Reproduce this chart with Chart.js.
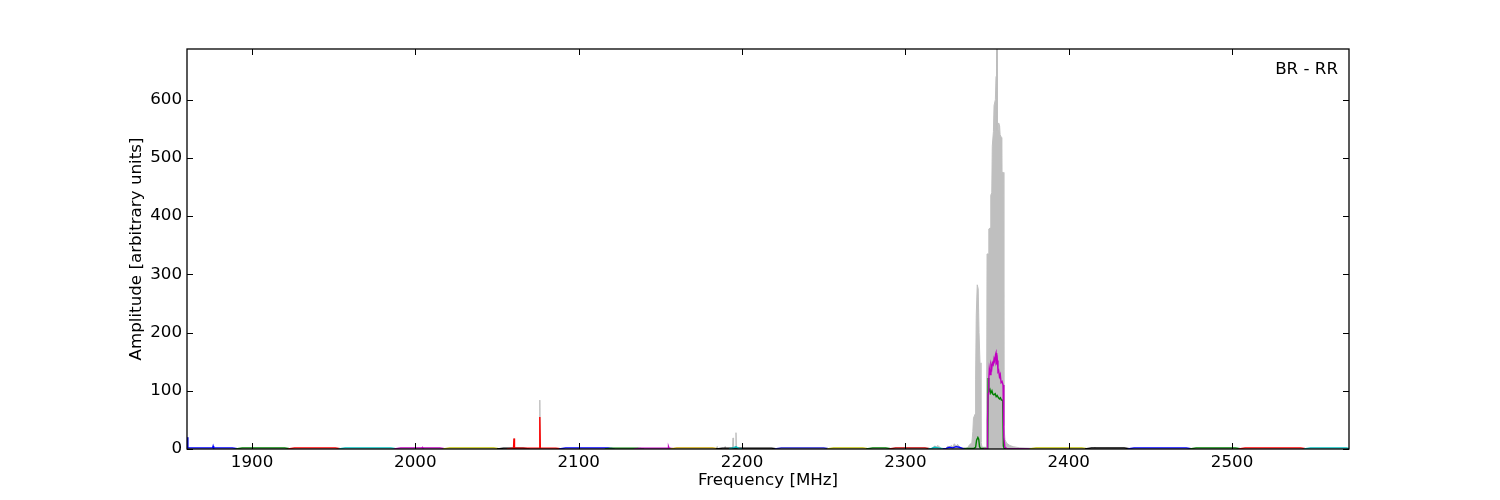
<!DOCTYPE html>
<html>
<head>
<meta charset="utf-8">
<script src="https://cdn.jsdelivr.net/npm/chart.js@4.4.0/dist/chart.umd.min.js"></script>
<style>
  html, body { margin: 0; padding: 0; background: #ffffff; }
  #wrap { width: 1500px; height: 500px; position: relative; }
</style>
</head>
<body>
<div id="wrap"><canvas id="c"></canvas></div>
<script>
// ---- tick labels ----
const xTicks = [1900, 2000, 2100, 2200, 2300, 2400, 2500];
const yTicks = [0, 100, 200, 300, 400, 500, 600];
const xRange = [1860.2, 2571.6];
const yRange = [0, 687];
const annotation = 'BR - RR';

// ---- grey envelope (max over channels) ----
const envFreq = [1860.2, 1860.7, 1875.9, 1876.2, 1876.5, 2004.0, 2004.3, 2004.6,
  2060.1, 2060.4, 2060.7, 2075.9, 2076.2, 2076.5, 2154.7, 2155.0, 2155.3,
  2184.4, 2184.7, 2185.0, 2189.3, 2189.6, 2189.9, 2194.2, 2194.5, 2194.8, 2196.0, 2196.3, 2196.6,
  2316, 2317, 2318, 2319, 2320, 2321, 2322, 2325, 2326, 2327, 2328, 2329, 2330, 2331, 2332, 2333, 2334,
  2338, 2339.5, 2340.7, 2341.3, 2341.7, 2342.7, 2343.0, 2343.4, 2344.0, 2344.6, 2345.1, 2345.7, 2346.3, 2347.0,
  2349.7, 2350.0, 2350.9, 2351.1, 2352.1, 2352.3, 2352.9, 2353.2, 2353.9, 2354.3, 2355.1, 2355.5, 2355.8,
  2356.2, 2356.4, 2356.9, 2357.1, 2357.7, 2358.0, 2358.8, 2359.0, 2359.9, 2360.3, 2361.0, 2362.0, 2364.0,
  2366.0, 2370.0, 2380.0, 2415.5, 2416.0, 2416.5, 2571.6];
const envAmp = [20, 0.5, 0.5, 5, 0.5, 0.5, 3, 0.5,
  0.5, 18, 0.5, 0.5, 84, 0.5, 0.5, 5, 0.5,
  0.5, 4, 0.5, 0.5, 4, 0.5, 0.5, 19, 2, 2, 28, 0.5,
  0.5, 3, 5, 4, 6, 3, 1, 1, 5, 3, 6, 4, 9, 5, 8, 4, 2,
  2, 8, 10, 30, 53, 60, 120, 230, 282, 275, 200, 148, 12, 3,
  3, 335, 335, 378, 380, 436, 440, 520, 545, 590, 600, 640, 690,
  690, 545, 548, 560, 555, 540, 535, 475, 475, 40, 16, 10, 6,
  4, 2, 1, 1, 3, 1, 0.5];

// ---- individual channel traces ----
const chanColor = ['#0000ff', '#008000', '#ff0000', '#00bfbf', '#bf00bf', '#bfbf00', '#000000',
  '#ff0000', '#0000ff', '#008000', '#bf00bf', '#c8a000', '#000000', '#00bfbf',
  '#2020d0', '#bfbf00', '#008000', '#c00000', '#00bfbf', '#0000ff',
  '#008000', '#bf00bf', '#bfbf00', '#000000', '#0000ff', '#008000', '#ff0000', '#00bfbf'];
const chanFreq = [
  [1860.2, 1860.7, 1866, 1875.9, 1876.2, 1876.5, 1888, 1892],
  [1890, 1894, 1920, 1924],
  [1922, 1926, 1951, 1955],
  [1953, 1957, 1985, 1989],
  [1987, 1991, 2004, 2004.3, 2004.6, 2015, 2019],
  [2017, 2021, 2048, 2052],
  [2050, 2054, 2066, 2070],
  [2056, 2060.1, 2060.4, 2060.7, 2075.9, 2076.2, 2076.5, 2086, 2090],
  [2088, 2092, 2118, 2122],
  [2116, 2120, 2136, 2140],
  [2134, 2138, 2154.7, 2155, 2155.3, 2156, 2159],
  [2156, 2160, 2182, 2186],
  [2184, 2188, 2218, 2222],
  [2192, 2194.5, 2196.3, 2198, 2200],
  [2220, 2224, 2250, 2254],
  [2252, 2256, 2274, 2278],
  [2276, 2280, 2288, 2292],
  [2290, 2294, 2312, 2316],
  [2314, 2316, 2318, 2320, 2322, 2324],
  [2323, 2325, 2327, 2329, 2331, 2333, 2335, 2338],
  [2336, 2338, 2342, 2343.0, 2343.6, 2344.4, 2344.9, 2345.4, 2346, 2350.4, 2350.7, 2350.9, 2351.2,
   2351.8, 2352.3, 2353.0, 2353.6, 2354.2, 2355.0, 2355.6, 2356.2, 2357.0, 2357.6, 2358.2, 2358.8, 2359.6,
   2360.0, 2360.5, 2364],
  [2348, 2350.0, 2350.3, 2350.7, 2351.1, 2351.4, 2352.0, 2352.4, 2352.9, 2353.3, 2353.8, 2354.3, 2354.8,
   2355.2, 2355.5, 2355.9, 2356.3, 2356.7, 2357.1, 2357.6, 2358.1, 2358.6, 2359.2, 2359.8, 2360.3, 2360.9,
   2362, 2378],
  [2376, 2380, 2408, 2412],
  [2410, 2414, 2434, 2438],
  [2436, 2440, 2472, 2476],
  [2474, 2478, 2502, 2506],
  [2504, 2508, 2542, 2546],
  [2544, 2548, 2570, 2571.6]
];
const chanAmp = [
  [20, 2, 2, 2, 5, 2, 2, 0],
  [0, 2, 2, 0],
  [0, 2, 2, 0],
  [0, 2, 2, 0],
  [0, 2, 2, 3, 2, 2, 0],
  [0, 2, 2, 0],
  [0, 1.5, 1.5, 0],
  [0, 1.5, 18, 1.5, 1.5, 55, 1.5, 1.5, 0],
  [0, 2, 2, 0],
  [0, 1.5, 1.5, 0],
  [0, 1.5, 1.5, 4, 1.5, 1.5, 0],
  [0, 2, 2, 0],
  [0, 1.5, 1.5, 0],
  [0, 2, 4, 1, 0],
  [0, 2, 2, 0],
  [0, 2, 2, 0],
  [0, 2, 2, 0],
  [0, 2, 2, 0],
  [0, 1, 3, 2, 1, 0],
  [0, 1, 3, 2, 4, 3, 1, 0],
  [0, 1, 1, 3, 15, 20, 17, 4, 1, 1, 122, 110, 98,
   102, 96, 100, 94, 93, 95, 90, 92, 88, 86, 88, 84, 84,
   5, 1, 0],
  [0.5, 1, 50, 95, 120, 138, 128, 144, 138, 148, 145, 155, 150,
   162, 165, 145, 152, 133, 135, 124, 128, 114, 116, 110, 20, 3,
   1, 0],
  [0, 2, 2, 0],
  [0, 2, 2, 0],
  [0, 2, 2, 0],
  [0, 2, 2, 0],
  [0, 2, 2, 0],
  [0, 2, 2, 1]
];

const FONT = 'DejaVu Sans';
const FS = 16.7;
const datasets = [];
chanFreq.forEach((fs, i) => {
  datasets.push({
    data: fs.map((f, j) => ({x: f, y: chanAmp[i][j]})),
    borderColor: chanColor[i],
    borderWidth: 1.4,
    pointRadius: 0,
    fill: false,
    tension: 0,
    order: -i
  });
});
datasets.push({
  data: envFreq.map((f, j) => ({x: f, y: envAmp[j]})),
  borderColor: '#bfbfbf',
  backgroundColor: '#bfbfbf',
  borderWidth: 1,
  pointRadius: 0,
  fill: 'origin',
  tension: 0,
  order: 100
});

const framePlugin = {
  id: 'frame',
  afterDatasetsDraw(chart) {
    const {ctx, chartArea: a, scales: {x, y}} = chart;
    ctx.save();
    ctx.strokeStyle = '#000';
    ctx.lineWidth = 1;
    const L = 6;
    xTicks.forEach(v => {
      const px = Math.round(x.getPixelForValue(v)) + 0.5;
      ctx.beginPath();
      ctx.moveTo(px, a.bottom); ctx.lineTo(px, a.bottom - L);
      ctx.moveTo(px, a.top); ctx.lineTo(px, a.top + L);
      ctx.stroke();
    });
    yTicks.forEach(v => {
      const py = Math.round(y.getPixelForValue(v)) + 0.5;
      ctx.beginPath();
      ctx.moveTo(a.left, py); ctx.lineTo(a.left + L, py);
      ctx.moveTo(a.right, py); ctx.lineTo(a.right - L, py);
      ctx.stroke();
    });
    ctx.lineWidth = 1.3;
    ctx.strokeRect(a.left, a.top, a.right - a.left, a.bottom - a.top);
    ctx.fillStyle = '#000';
    ctx.font = FS + 'px "' + FONT + '"';
    ctx.textAlign = 'right';
    ctx.textBaseline = 'middle';
    ctx.fillText(annotation, a.right - 11, a.top + 21);
    ctx.restore();
  }
};

new Chart(document.getElementById('c'), {
  type: 'line',
  data: { datasets },
  options: {
    responsive: true,
    maintainAspectRatio: false,
    animation: false,
    events: [],
    layout: { padding: { top: 49, right: 151, left: 0, bottom: 0 } },
    plugins: { legend: { display: false }, tooltip: { enabled: false } },
    scales: {
      x: {
        type: 'linear',
        min: xRange[0], max: xRange[1],
        afterBuildTicks(s) { s.ticks = xTicks.map(v => ({value: v})); },
        afterFit(s) { s.height = 51; },
        grid: { display: false, drawTicks: false },
        border: { display: false },
        ticks: { color: '#000', font: { family: FONT, size: FS }, padding: 4, maxRotation: 0, autoSkip: false,
                 callback: v => String(v) },
        title: { display: true, text: 'Frequency [MHz]', color: '#000', font: { family: FONT, size: FS }, padding: { top: 0, bottom: 9 } }
      },
      y: {
        type: 'linear',
        min: yRange[0], max: yRange[1],
        afterBuildTicks(s) { s.ticks = yTicks.map(v => ({value: v})); },
        afterFit(s) { s.width = 187; },
        grid: { display: false, drawTicks: false },
        border: { display: false },
        ticks: { color: '#000', font: { family: FONT, size: FS }, padding: 5, autoSkip: false,
                 callback: v => String(v) },
        title: { display: true, text: 'Amplitude [arbitrary units]', color: '#000', font: { family: FONT, size: FS }, padding: { top: 127, bottom: 0 } }
      }
    }
  },
  plugins: [framePlugin]
});
</script>
</body>
</html>
